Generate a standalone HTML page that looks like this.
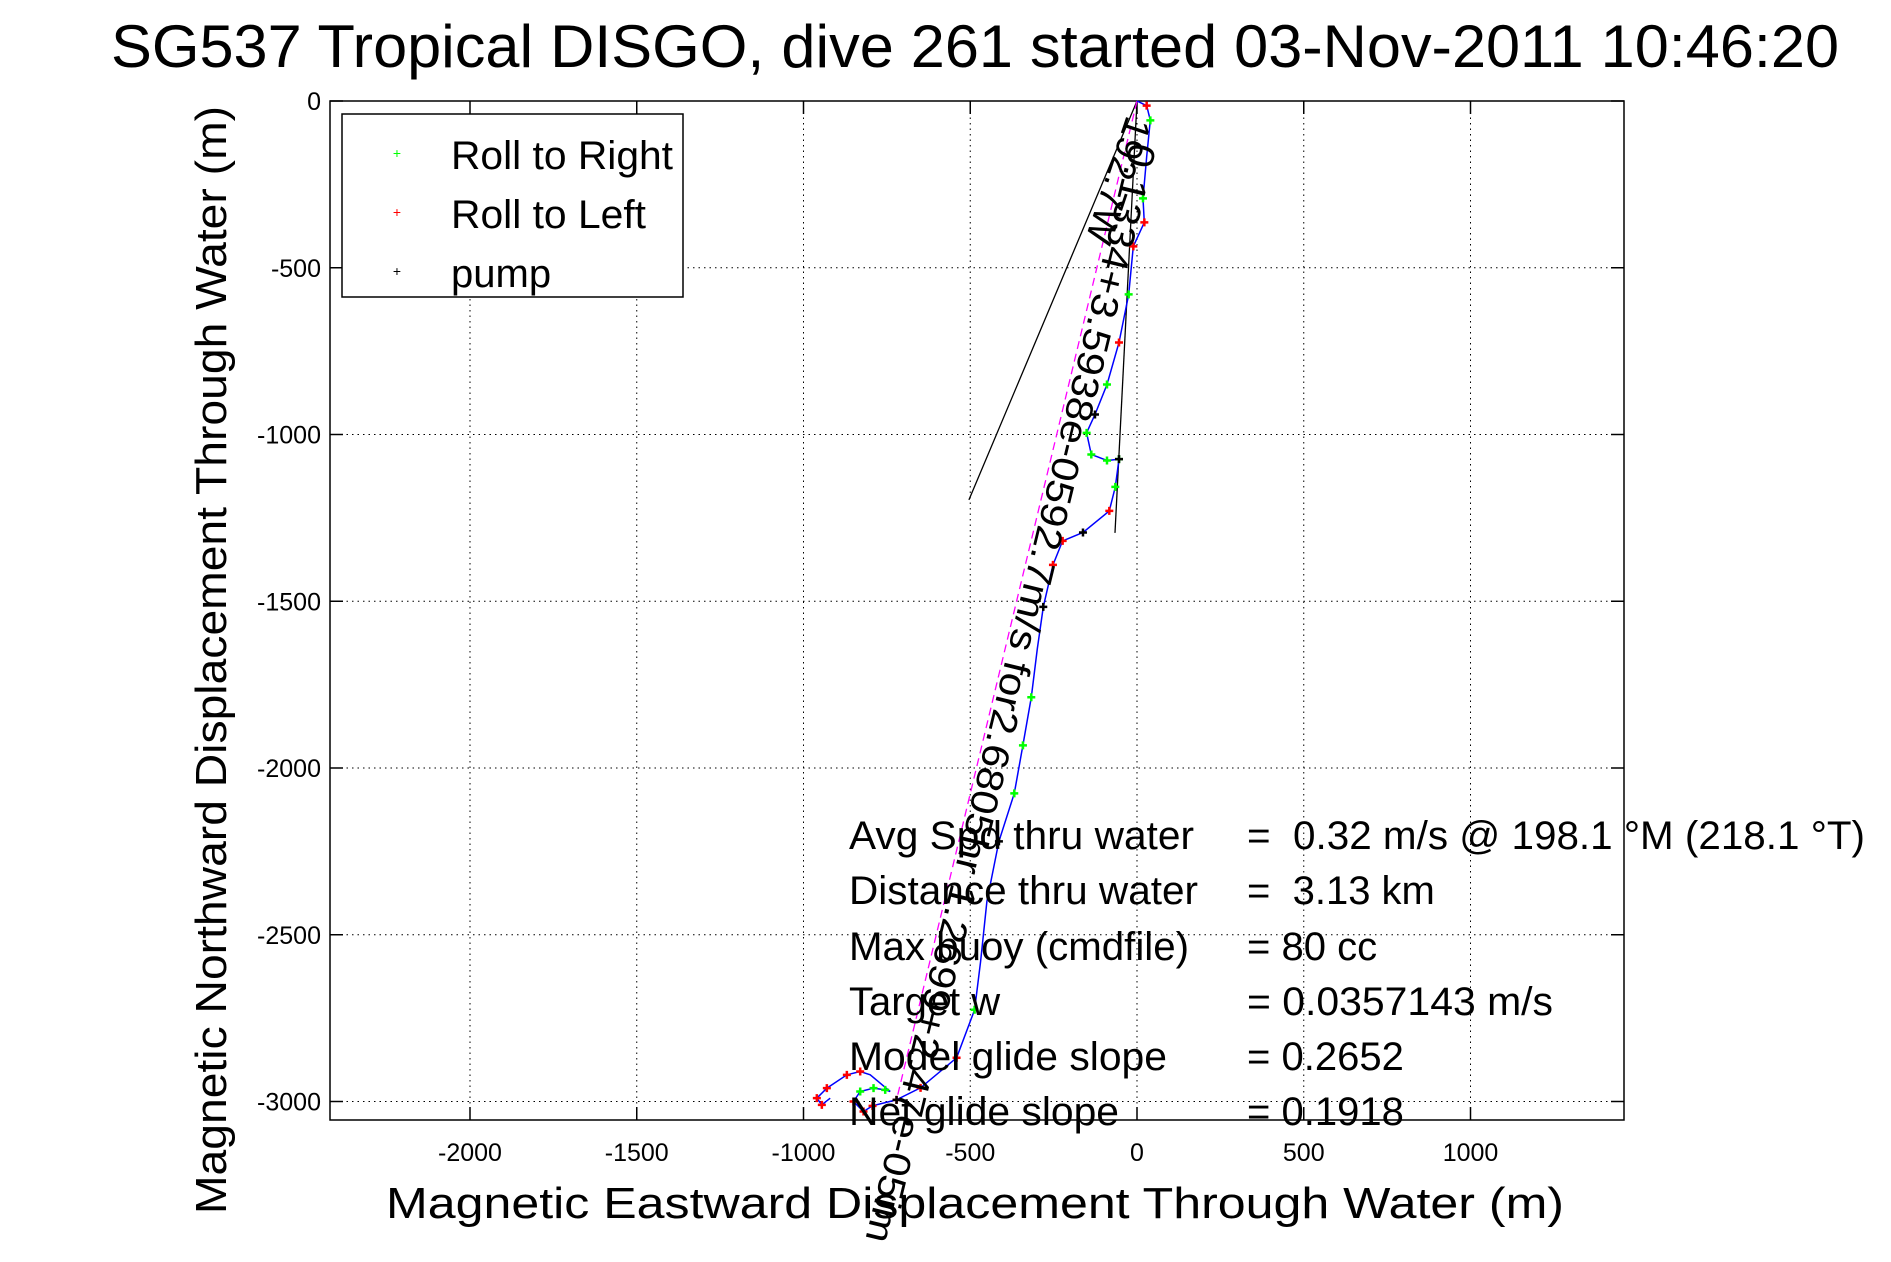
<!DOCTYPE html>
<html><head><meta charset="utf-8"><style>
html,body{margin:0;padding:0;background:#fff;}
svg{display:block;font-family:"Liberation Sans",sans-serif;}
text{white-space:pre;}
</style></head><body>
<svg id="chart" width="1891" height="1262" viewBox="0 0 1891 1262" xmlns="http://www.w3.org/2000/svg">
<rect x="0" y="0" width="1891" height="1262" fill="#fff"/>
<text x="975" y="67" font-size="60" text-anchor="middle" textLength="1728" lengthAdjust="spacingAndGlyphs">SG537 Tropical DISGO, dive 261 started 03-Nov-2011 10:46:20</text>
<g id="grid"></g>
<g id="axes"></g>
<g id="series"></g>
<text transform="translate(226,660) rotate(-90)" font-size="44" text-anchor="middle" textLength="1108" lengthAdjust="spacingAndGlyphs">Magnetic Northward Displacement Through Water (m)</text>
<text x="975" y="1218" font-size="44" text-anchor="middle" textLength="1178" lengthAdjust="spacingAndGlyphs">Magnetic Eastward Displacement Through Water (m)</text>
<g>
<rect x="342" y="114" width="341" height="183" fill="#fff" stroke="#000" stroke-width="1.5"/>
<g><text x="397" y="158" font-size="14" fill="#0f0" text-anchor="middle">+</text><text x="451" y="169" font-size="40" textLength="222" lengthAdjust="spacingAndGlyphs">Roll to Right</text></g>
<g><text x="397" y="217" font-size="14" fill="#f00" text-anchor="middle">+</text><text x="451" y="228" font-size="40" textLength="195" lengthAdjust="spacingAndGlyphs">Roll to Left</text></g>
<g><text x="397" y="276" font-size="14" fill="#000" text-anchor="middle">+</text><text x="451" y="287" font-size="40">pump</text></g>
</g>
<g font-size="40">
<text x="849" y="849" textLength="345" lengthAdjust="spacingAndGlyphs">Avg Spd thru water</text><text x="1247" y="849" textLength="618" lengthAdjust="spacingAndGlyphs">=  0.32 m/s @ 198.1 °M (218.1 °T)</text>
<text x="849" y="904" textLength="349" lengthAdjust="spacingAndGlyphs">Distance thru water</text><text x="1247" y="904">=  3.13 km</text>
<text x="849" y="960" textLength="340" lengthAdjust="spacingAndGlyphs">Max buoy (cmdfile)</text><text x="1247" y="960">= 80 cc</text>
<text x="849" y="1015">Target w</text><text x="1247" y="1015" textLength="306" lengthAdjust="spacingAndGlyphs">= 0.0357143 m/s</text>
<text x="849" y="1070" textLength="318" lengthAdjust="spacingAndGlyphs">Model glide slope</text><text x="1247" y="1070">= 0.2652</text>
<text x="849" y="1125" textLength="270" lengthAdjust="spacingAndGlyphs">Net glide slope</text><text x="1247" y="1125">= 0.1918</text>
</g>
<script>
// axis configuration
const xTicks = [-2000, -1500, -1000, -500, 0, 500, 1000];
const yTicks = [0, -500, -1000, -1500, -2000, -2500, -3000];
// track (east, north) in metres
const trackX = [0, 29, 40, 29, 18, 22, -11, -25, -54, -90, -126, -151, -137, -90, -54, -65, -83, -162, -223, -252, -281, -299, -317, -342, -368, -414, -450, -469, -487, -541, -649, -721, -793, -820, -850, -830, -790, -755, -740, -800, -830, -870, -930, -960, -945, -920];
const trackY = [0, -14, -58, -166, -292, -364, -436, -580, -724, -850, -940, -995, -1060, -1078, -1074, -1157, -1229, -1294, -1319, -1391, -1517, -1643, -1788, -1932, -2076, -2220, -2400, -2580, -2725, -2869, -2959, -2995, -3013, -3030, -3000, -2970, -2960, -2965, -2970, -2920, -2910, -2920, -2960, -2990, -3010, -2990];
const rightIdx = [2, 4, 7, 9, 11, 12, 13, 14, 15, 22, 23, 24, 28, 35, 36, 37];
const leftIdx = [1, 5, 6, 8, 16, 18, 19, 29, 30, 31, 32, 33, 34, 40, 41, 42, 43, 44];
const pumpIdx = [10, 14, 17, 20, 25, 31];
const guideEndX = [-504, -66];
const guideEndY = [-1196, -1295];

const X0 = 1137, Y0 = 101, S = 0.3335;
const L = 330, R = 1624, T = 101, B = 1120;
function sx(v){ return X0 + v * S; }
function sy(v){ return Y0 - v * S; }
const NS = "http://www.w3.org/2000/svg";
function mk(tag, attrs, parent){ const e = document.createElementNS(NS, tag); for (const k in attrs) e.setAttribute(k, attrs[k]); parent.appendChild(e); return e; }

const grid = document.getElementById('grid');
const axes = document.getElementById('axes');
const series = document.getElementById('series');

xTicks.forEach(v => {
  const x = sx(v);
  const g = mk('line', {x1:x, y1:T, x2:x, y2:B, stroke:'#000', 'stroke-width':1, 'stroke-dasharray':'1.5,4'}, grid);
  
  
  mk('line', {x1:x, y1:B, x2:x, y2:B-13, stroke:'#000', 'stroke-width':1.5}, axes);
  mk('line', {x1:x, y1:T, x2:x, y2:T+13, stroke:'#000', 'stroke-width':1.5}, axes);
  const t = mk('text', {x:x, y:1161, 'font-size':25, 'text-anchor':'middle'}, axes);
  t.textContent = String(v);
  
  
});
yTicks.forEach(v => {
  const y = sy(v);
  const g = mk('line', {x1:L, y1:y, x2:R, y2:y, stroke:'#000', 'stroke-width':1, 'stroke-dasharray':'1.5,4'}, grid);
  
  
  mk('line', {x1:L, y1:y, x2:L+13, y2:y, stroke:'#000', 'stroke-width':1.5}, axes);
  mk('line', {x1:R, y1:y, x2:R-13, y2:y, stroke:'#000', 'stroke-width':1.5}, axes);
  const t = mk('text', {x:321, y:y+9, 'font-size':25, 'text-anchor':'end'}, axes);
  t.textContent = String(v);
  
  
});
const frame = mk('rect', {x:L, y:T, width:R-L, height:B-T, fill:'none', stroke:'#000', 'stroke-width':1.5}, axes);



// guide lines
guideEndX.forEach((gx, i) => {
  const l = mk('line', {x1:sx(0), y1:sy(0), x2:sx(gx), y2:sy(guideEndY[i]), stroke:'#000', 'stroke-width':1.3}, series);
  
  
});
const mag = mk('line', {x1:sx(0), y1:sy(0), x2:sx(trackX[31]), y2:sy(trackY[31]), stroke:'#f0f', 'stroke-width':1.3, 'stroke-dasharray':'8,5'}, series);



const pts = trackX.map((v, i) => sx(v).toFixed(1) + ',' + sy(trackY[i]).toFixed(1)).join(' ');
const pl = mk('polyline', {points:pts, fill:'none', stroke:'#00f', 'stroke-width':1.5}, series);



function markers(idx, color, name){
  idx.forEach(i => {
    const x = sx(trackX[i]), y = sy(trackY[i]);
    const p = mk('path', {d:`M${x-4},${y}H${x+4}M${x},${y-4}V${y+4}`, stroke:color, 'stroke-width':2.5}, series);
    
    
  });
}
markers(rightIdx, '#0f0', 'roll-right-marker');
markers(leftIdx, '#f00', 'roll-left-marker');
markers(pumpIdx, '#000', 'pump-marker');

// rotated annotation along track
const ax1 = sx(0) - 6, ay1 = sy(0) + 40;
const ang = 103.6;
const ann = mk('text', {transform:`translate(${ax1},${ay1}) rotate(${ang})`, 'font-size':38, textLength:1130, lengthAdjust:'spacingAndGlyphs'}, series);
ann.textContent = '0.1334+3.5938e-0592.7m/s for2.6805hr 1.2699+2.47e-05im';


const ann2 = mk('text', {transform:`translate(${sx(-30)},${sy(-40)}) rotate(${ang+5})`, 'font-size':38}, series);
ann2.textContent = '192.7W';


</script>
</svg>
</body></html>
